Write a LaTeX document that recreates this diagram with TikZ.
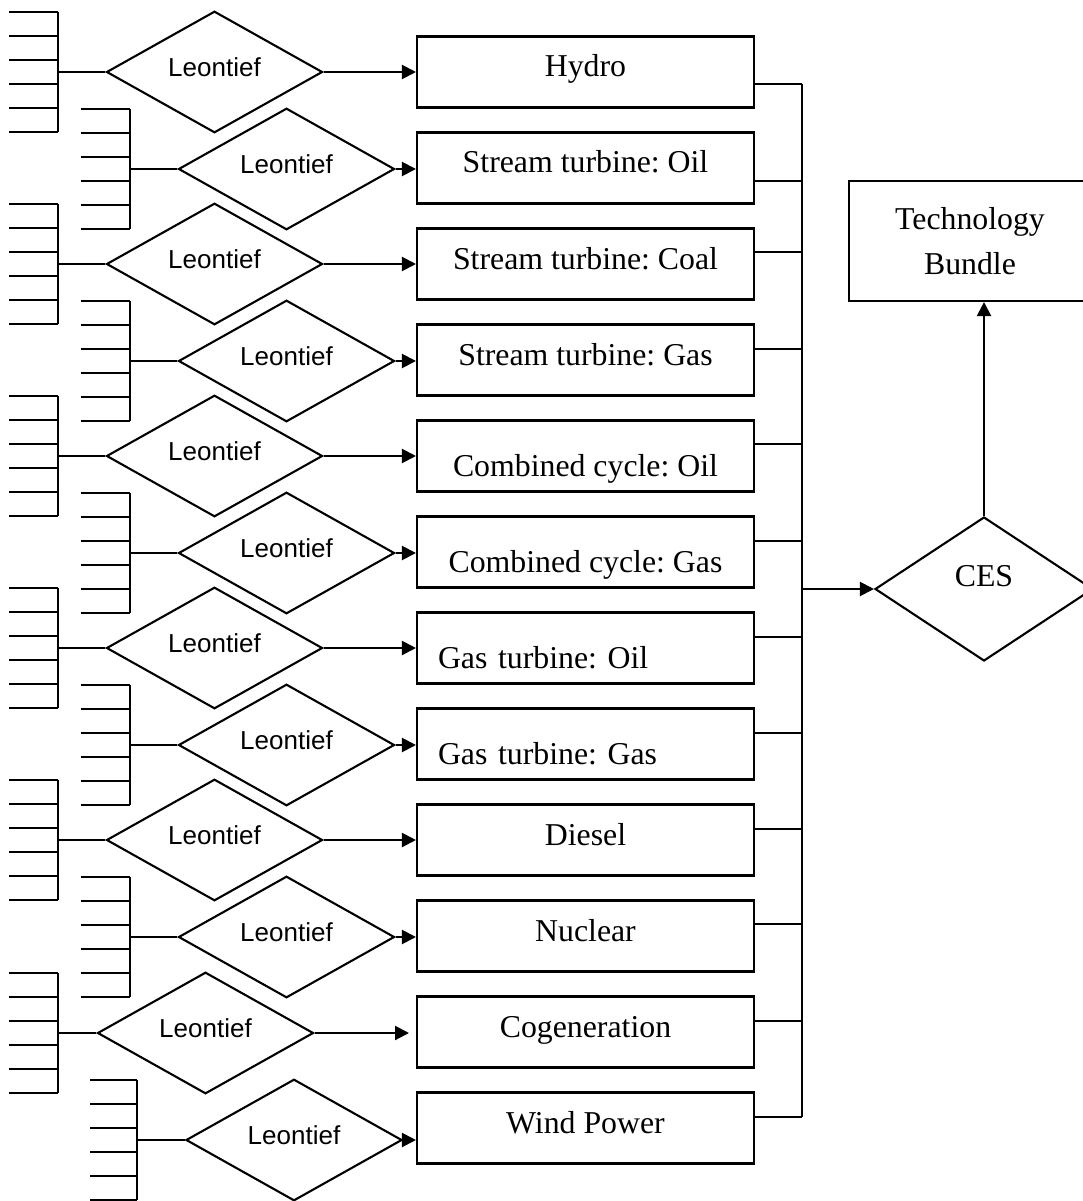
\documentclass[tikz,border=0pt]{standalone}
\usepackage{fontspec}
\setmainfont{Liberation Serif}
\newfontfamily\sansL{Liberation Sans}
\usetikzlibrary{shapes.geometric,arrows.meta}
\frenchspacing
\begin{document}
\begin{tikzpicture}[x=1pt,y=-1pt,line width=2.1pt,
  techbox/.style={draw,rectangle,minimum width=337pt,minimum height=71pt,inner sep=0pt,
    font=\fontsize{31.8}{38}\selectfont,text height=21pt,text depth=11pt},
  leon/.style={draw,diamond,minimum width=216pt,minimum height=120pt,inner sep=0pt,
    font=\sansL\fontsize{26}{30}\selectfont,text height=19pt,text depth=10pt},
  arr/.style={-{Triangle[length=14pt,width=14pt]}},
  wire/.style={line width=2.1pt}]
\useasboundingbox (0,0) rectangle (1083,1201);
\clip (0,0) rectangle (1083,1201);

% technology boxes
\node[techbox] (b0) at (585.5,72) {Hydro};
\node[techbox] (b1) at (585.5,168) {Stream turbine: Oil};
\node[techbox] (b2) at (585.5,264) {Stream turbine: Coal};
\node[techbox] (b3) at (585.5,360) {Stream turbine: Gas};
\node[techbox] (b4) at (585.5,456) {\raisebox{-15pt}{Combined cycle: Oil}};
\node[techbox] (b5) at (585.5,552) {\raisebox{-15pt}{Combined cycle: Gas}};
\node[techbox,text width=295pt,align=left] (b6) at (585.5,648) {\raisebox{-15pt}{Gas turbine: Oil}};
\node[techbox,text width=295pt,align=left] (b7) at (585.5,744) {\raisebox{-15pt}{Gas turbine: Gas}};
\node[techbox] (b8) at (585.5,840) {Diesel};
\node[techbox] (b9) at (585.5,936) {Nuclear};
\node[techbox] (b10) at (585.5,1032) {Cogeneration};
\node[techbox] (b11) at (585.5,1128) {Wind Power};

% Leontief diamonds
\node[leon] (d0) at (214.5,72) {Leontief};
\node[leon] (d1) at (286.5,169) {Leontief};
\node[leon] (d2) at (214.5,264) {Leontief};
\node[leon] (d3) at (286.5,361) {Leontief};
\node[leon] (d4) at (214.5,456) {Leontief};
\node[leon] (d5) at (286.5,553) {Leontief};
\node[leon] (d6) at (214.5,648) {Leontief};
\node[leon] (d7) at (286.5,745) {Leontief};
\node[leon] (d8) at (214.5,840) {Leontief};
\node[leon] (d9) at (286.5,937) {Leontief};
\node[leon] (d10) at (205.5,1033) {Leontief};
\node[leon] (d11) at (294,1140) {Leontief};

% input combs
\foreach \k/\x/\l/\y in {0/58/9/72, 1/130/81/169, 2/58/9/264, 3/130/81/361,
    4/58/9/456, 5/130/81/553, 6/58/9/648, 7/130/81/745, 8/58/9/840,
    9/130/81/937, 10/58/9/1033, 11/137/90/1140}{
  \draw[wire] (\x,\y-60) -- (\x,\y+60);
  \foreach \i in {0,...,5}{
    \draw[wire] (\l,\y-60+24*\i) -- (\x,\y-60+24*\i);
  }
  \coordinate (c\k) at (\x,\y);
  \draw[wire] (c\k) -- (d\k.west);
}

% arrows diamond -> box
\foreach \k in {0,...,9,11}{
  \draw[wire,arr] (d\k.east) -- (d\k.east -| b\k.west);
}
\coordinate (cogend) at (409,1033);
\draw[wire,arr] (d10.east) -- (cogend);

% bus
\coordinate (bustop) at (802,84);
\coordinate (busbot) at (802,1117);
\draw[wire] (bustop) -- (busbot);
\foreach \k/\o in {0/-12, 1/-13, 2/12, 3/11, 4/12, 5/11, 6/11, 7/11, 8/11, 9/12, 10/11, 11/11}{
  \draw[wire] ([yshift=\o pt]b\k.east) -- ([yshift=\o pt]b\k.east -| bustop);
}

% CES and Technology Bundle
\node[draw,diamond,minimum width=218pt,minimum height=144pt,inner sep=0pt,
  font=\fontsize{31.8}{38}\selectfont,text height=21pt,text depth=26pt] (ces) at (984,589) {CES};
\node[draw,rectangle,minimum width=242pt,minimum height=120pt,inner sep=0pt,align=center,
  font=\fontsize{31.8}{45}\selectfont] (tb) at (970,241) {\raisebox{-5pt}{Technology}\\\raisebox{-5pt}{Bundle}};
\draw[wire,arr] (bustop |- ces.west) -- (ces.west);
\draw[wire,arr] (ces.north) -- (ces.north |- tb.south);
\end{tikzpicture}
\end{document}
